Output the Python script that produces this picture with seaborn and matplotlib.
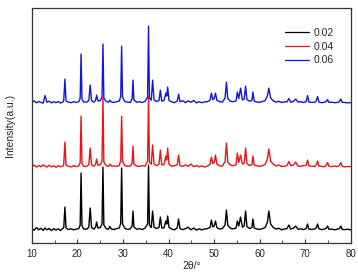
import pandas as pd
import numpy as np
import matplotlib
matplotlib.use("Agg")
import matplotlib.pyplot as plt
from matplotlib.ticker import MultipleLocator
import seaborn as sns

# 2theta positions (deg)
two_theta = [
    10, 10.5, 11, 11.5, 12, 12.5, 12.9, 13.3, 13.8, 14.3, 14.8, 15.3, 15.8, 16.3, 16.8,
    17.0, 17.25, 17.5, 18.0, 18.6, 19.2, 19.8,
    20.3, 20.6, 20.8, 21.0, 21.4,
    22.0, 22.5, 22.8, 23.1, 23.6, 24.0, 24.2, 24.5,
    25.0, 25.4, 25.6, 25.8, 26.3, 26.8,
    27.1, 27.5, 28.0, 28.6,
    29.2, 29.5, 29.7, 29.9, 30.4, 31.0, 31.6,
    32.0, 32.2, 32.4, 33.0, 33.6, 34.2, 34.8,
    35.4, 35.6, 35.8, 36.2, 36.5, 36.8,
    37.3, 37.9, 38.2, 38.5, 39.0, 39.4, 39.6, 39.8, 40.1,
    40.7, 41.3, 41.9, 42.2, 42.5, 43.1, 43.7, 44.3, 44.9, 45.5, 46.1, 46.7, 47.3, 47.9, 48.5,
    49.1, 49.4, 49.7, 50.0, 50.3, 50.6, 51.2, 51.8,
    52.4, 52.7, 53.0, 53.6, 54.2, 54.8,
    55.1, 55.4, 55.8, 56.2, 56.6, 56.9, 57.2, 57.8, 58.3, 58.5, 58.8,
    59.4, 60.0, 60.6, 61.2, 61.7, 62.0, 62.4,
    63.0, 63.6, 64.2, 64.8, 65.4, 66.0, 66.4, 66.8, 67.4, 67.9, 68.4, 69.0, 69.6,
    70.2, 70.5, 70.8, 71.4, 72.0, 72.4, 72.7, 73.0, 73.6, 74.2, 74.6,
    74.9, 75.2, 75.8, 76.4, 77.0, 77.5, 77.8, 78.1, 78.7, 79.3, 80.0,
]

int_002 = [
    105, 88, 115, 92, 108, 86, 112, 92, 106, 84, 104, 90, 102, 86, 108,
    115, 320, 112, 95, 102, 92, 100,
    105, 140, 660, 130, 100,
    98, 118, 310, 115, 100, 120, 170, 110,
    115, 150, 720, 140, 105, 98,
    125, 100, 95, 104,
    110, 160, 710, 150, 108, 96, 102,
    130, 280, 120, 98, 104, 95, 108,
    150, 740, 140, 115, 280, 120,
    105, 115, 220, 110, 112, 180, 150, 230, 115,
    100, 92, 112, 200, 105, 94, 104, 118, 92, 110, 90, 102, 92, 100, 104,
    115, 190, 120, 130, 180, 115, 100, 105,
    140, 290, 135, 108, 102, 110,
    180, 130, 220, 120, 130, 280, 125, 105, 115, 200, 110,
    100, 96, 104, 115, 170, 280, 150,
    115, 100, 108, 92, 100, 105, 140, 100, 108, 130, 98, 102, 94,
    105, 150, 100, 96, 100, 110, 150, 102, 94, 100, 108,
    130, 96, 100, 92, 98, 104, 130, 96, 94, 98, 92,
]

int_004 = [
    96, 110, 90, 106, 93, 112, 100, 90, 108, 92, 102, 88, 104, 93, 100,
    118, 340, 110, 98, 92, 104, 95,
    102, 135, 600, 125, 96,
    96, 115, 280, 112, 98, 118, 170, 108,
    112, 150, 780, 140, 104, 96,
    120, 98, 102, 96,
    108, 155, 600, 145, 104, 98, 100,
    130, 300, 120, 100, 96, 104, 98,
    150, 790, 140, 118, 310, 122,
    104, 118, 260, 112, 115, 200, 160, 280, 118,
    98, 104, 112, 210, 106, 96, 112, 98, 120, 94, 106, 93, 102, 90, 100,
    118, 190, 125, 135, 210, 118, 102, 100,
    145, 330, 138, 110, 104, 112,
    230, 135, 210, 120, 130, 280, 125, 105, 115, 200, 110,
    102, 98, 104, 118, 175, 270, 150,
    118, 102, 110, 96, 98, 106, 145, 104, 110, 140, 100, 98, 104,
    108, 160, 102, 98, 95, 112, 150, 100, 96, 92, 110,
    135, 98, 94, 100, 95, 106, 135, 98, 92, 96, 94,
]

int_006 = [
    100, 112, 92, 106, 96, 90, 165, 98, 110, 92, 104, 94, 106, 90, 100,
    115, 330, 112, 100, 94, 104, 96,
    104, 138, 580, 128, 100,
    100, 116, 270, 114, 98, 120, 170, 112,
    114, 150, 680, 140, 106, 100,
    118, 100, 96, 104,
    110, 158, 660, 148, 106, 100, 96,
    130, 320, 122, 98, 104, 96, 106,
    150, 860, 140, 120, 320, 125,
    106, 115, 220, 110, 115, 190, 160, 250, 115,
    102, 94, 110, 180, 104, 114, 94, 112, 98, 116, 92, 104, 94, 102, 104,
    118, 190, 125, 135, 190, 118, 104, 100,
    140, 300, 135, 108, 104, 112,
    200, 135, 240, 122, 130, 260, 125, 108, 118, 200, 110,
    100, 98, 106, 115, 165, 240, 140,
    112, 100, 108, 96, 102, 104, 135, 98, 108, 130, 100, 104, 96,
    105, 165, 100, 98, 96, 112, 155, 100, 94, 98, 106,
    125, 96, 100, 94, 96, 104, 130, 98, 96, 92, 95,
]

samples = ["0.02", "0.04", "0.06"]
offsets = [40, 670, 1310]
colors = ["black", "#e8141b", "#1515d8"]

frames = []
for name, vals, off in zip(samples, [int_002, int_004, int_006], offsets):
    assert len(vals) == len(two_theta)
    frames.append(pd.DataFrame({"2theta": two_theta,
                                "I": np.array(vals) + off,
                                "sample": name}))
df = pd.concat(frames, ignore_index=True)

sns.set_style("ticks")
plt.rcParams["font.family"] = ["Liberation Sans", "DejaVu Sans"]

fig = plt.figure(figsize=(3.58, 2.8), dpi=100)
ax = fig.add_axes([0.089, 0.132, 0.891, 0.839])
sns.lineplot(data=df, x="2theta", y="I", hue="sample", palette=colors,
             linewidth=1.0, estimator=None, sort=False, ax=ax)

ax.set_xlim(10, 80)
ax.set_ylim(0, 2350)
ax.xaxis.set_major_locator(MultipleLocator(10))
ax.xaxis.set_minor_locator(MultipleLocator(5))
ax.tick_params(axis="x", which="both", direction="in", labelsize=7, pad=4,
               color="#333333")
ax.tick_params(axis="x", which="major", length=3)
ax.tick_params(axis="x", which="minor", length=2)
ax.set_yticks([])
for s in ax.spines.values():
    s.set_color("#333333")
    s.set_linewidth(0.9)
ax.set_xlabel("2θ/°", fontsize=7.5, labelpad=2)
ax.set_ylabel("Intensity(a.u.)", fontsize=7.5, labelpad=12)

leg = ax.legend(loc="upper right", frameon=False, fontsize=7.5,
                handlelength=2.3, handletextpad=0.45, labelspacing=0.35,
                bbox_to_anchor=(0.975, 0.955))
for h in leg.get_lines():
    h.set_linewidth(0.9)

fig.savefig("out.png", dpi=100)
